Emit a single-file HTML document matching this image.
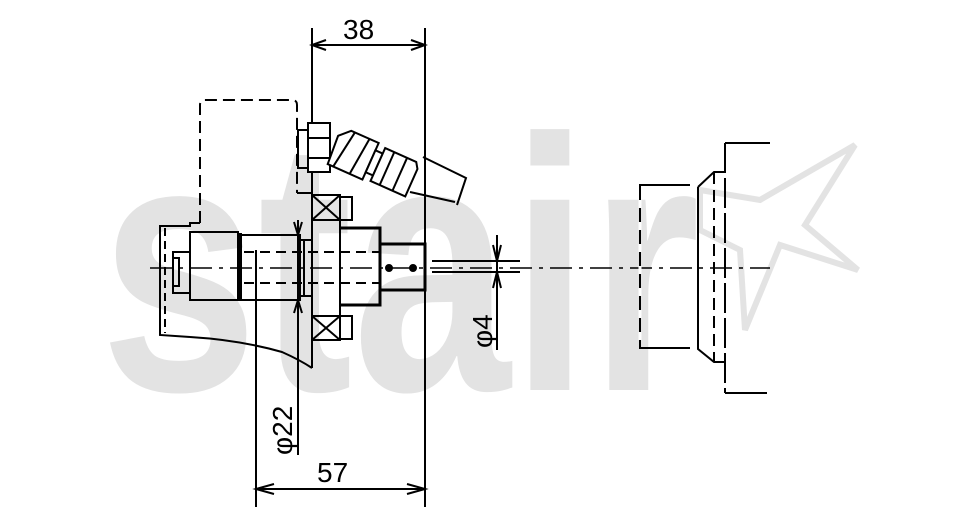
<!DOCTYPE html>
<html><head><meta charset="utf-8"><style>
html,body{margin:0;padding:0;background:#fff;}
svg{display:block;}
</style></head><body>
<svg width="956" height="530" viewBox="0 0 956 530" xmlns="http://www.w3.org/2000/svg">
<!-- watermark -->
<text x="100" y="390" font-family="Liberation Sans, sans-serif" font-weight="bold" font-size="360" fill="#e3e3e3" textLength="600" lengthAdjust="spacingAndGlyphs">stair</text>
<polygon points="700,190 760,200 855,145 805,225 858,270 780,245 745,330 740,250 700,230" fill="none" stroke="#e3e3e3" stroke-width="6"/>

<g fill="none" stroke="#000" stroke-width="2">
<!-- centerline -->
<line x1="150" y1="268" x2="770" y2="268" stroke-dasharray="22,7,4,7" stroke-width="1.5"/>

<!-- dim 38 -->
<line x1="312" y1="28" x2="312" y2="200"/>
<line x1="425" y1="28" x2="425" y2="295"/>
<line x1="312" y1="45" x2="425" y2="45"/>
<polyline points="326,40 312,45 326,50"/>
<polyline points="411,40 425,45 411,50"/>

<!-- dim 57 -->
<line x1="256" y1="250" x2="256" y2="507"/>
<line x1="425" y1="290" x2="425" y2="507"/>
<line x1="256" y1="489" x2="425" y2="489"/>
<polyline points="274,484 256,489 274,494"/>
<polyline points="407,484 425,489 407,494"/>

<!-- phi22 dim -->
<line x1="298" y1="220" x2="298" y2="455"/>
<polyline points="294,222 298,235 302,222"/>
<polyline points="294,313 298,300 302,313"/>

<!-- phi4 dim -->
<line x1="432" y1="261" x2="520" y2="261"/>
<line x1="432" y1="272" x2="520" y2="272"/>
<line x1="497" y1="235" x2="497" y2="350"/>
<polyline points="493,245 497,261 501,245"/>
<polyline points="493,288 497,272 501,288"/>

<!-- dashed housing -->
<path d="M200,223 V105 Q200,100 205,100 H292 Q297,100 297,105 V193" stroke-dasharray="12,6"/>
<line x1="297" y1="193" x2="312" y2="193"/>
<!-- left body -->
<polyline points="200,223 190,223 190,226 160,226 160,335 190,337"/>
<line x1="165" y1="228" x2="165" y2="333" stroke-dasharray="8,5"/>
<path d="M190,337 Q240,340 282,352 Q300,360 312,368"/>
<line x1="312" y1="340" x2="312" y2="368"/>
<rect x="190" y="232" width="48" height="68"/>
<rect x="173" y="252" width="17" height="41"/>
<rect x="173" y="258" width="6" height="28"/>
<line x1="240" y1="233" x2="240" y2="300" stroke-width="4"/>
<!-- shaft -->
<rect x="240" y="235" width="60" height="65"/>
<line x1="244" y1="252" x2="380" y2="252" stroke-dasharray="10,6"/>
<line x1="244" y1="283" x2="380" y2="283" stroke-dasharray="10,6"/>
<line x1="300" y1="240" x2="312" y2="240"/><line x1="300" y1="296" x2="312" y2="296"/>
<line x1="304" y1="240" x2="304" y2="296"/>
<!-- flange -->
<rect x="312" y="195" width="28" height="145"/>
<rect x="312" y="195" width="28" height="25"/>
<path d="M312,195 L340,220 M340,195 L312,220"/>
<rect x="312" y="316" width="28" height="24"/>
<path d="M312,316 L340,340 M340,316 L312,340"/>
<path d="M340,197 H352 V220 H340 M340,316 H352 V339 H340"/>
<!-- hub -->
<path d="M340,228 H380 V305 H340" stroke-width="3"/>
<!-- small shaft -->
<rect x="380" y="244" width="45" height="46" stroke-width="3"/>
<circle cx="389" cy="268" r="3" fill="#000"/>
<circle cx="413" cy="268" r="3" fill="#000"/>
<!-- nut -->
<rect x="308" y="123" width="22" height="49" fill="#fff"/>
<line x1="308" y1="138" x2="330" y2="138"/><line x1="308" y1="158" x2="330" y2="158"/>
<rect x="298" y="130" width="10" height="38"/>
<!-- angled fitting -->
<g transform="translate(334,145) rotate(24)" fill="#fff">
<path d="M0,-10 L10,-20 H40 V20 H2 Z"/>
<line x1="14" y1="-20" x2="8" y2="20"/><line x1="30" y1="-20" x2="26" y2="20"/>
<rect x="40" y="-12" width="8" height="24"/>
<path d="M48,-18 H82 L86,-12 V18 H48 Z"/>
<line x1="58" y1="-18" x2="58" y2="18"/><line x1="72" y1="-18" x2="72" y2="18"/>
</g>
<polyline points="423,157 466,178 457,205"/>
<line x1="410" y1="192" x2="455" y2="202"/>

<!-- right part -->
<path d="M690,185 H640 V348 H690"/>
<line x1="640" y1="186" x2="640" y2="347" stroke="#fff" stroke-width="3" stroke-dasharray="0,14,8,0"/>
<path d="M698,187 L714,172 H725 M698,187 V349 L714,362 H725"/>
<line x1="714" y1="172" x2="714" y2="362" stroke-dasharray="12,6"/>
<line x1="725" y1="143" x2="725" y2="393" stroke-dasharray="30,5"/>
<line x1="725" y1="143" x2="770" y2="143"/>
<line x1="725" y1="393" x2="767" y2="393"/>
</g>

<g font-family="Liberation Sans, sans-serif" font-size="28" fill="#000">
<text x="343" y="39">38</text>
<text x="317" y="482">57</text>
<text transform="translate(292,455) rotate(-90)">φ22</text>
<text transform="translate(492,348) rotate(-90)">φ4</text>
</g>
</svg>
</body></html>
